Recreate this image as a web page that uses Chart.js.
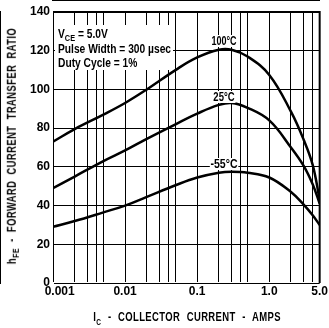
<!DOCTYPE html>
<html>
<head>
<meta charset="utf-8">
<script src="https://cdn.jsdelivr.net/npm/chart.js@4/dist/chart.umd.min.js"></script>
<style>
  html, body { margin: 0; padding: 0; background: #fff; }
  #wrap { position: relative; width: 329px; height: 328px; overflow: hidden; background: #fff; }
  #wrap canvas { position: absolute; left: 0; top: 0; }
  .txt { position: absolute; color: #000; font-family: 'Liberation Sans', Arial, sans-serif; font-weight: bold; white-space: nowrap; }
  .title { left: 185px; top: -12px; font-size: 16px; line-height: 16px; letter-spacing: 1px; transform-origin: 0 0; }
  .notebox { position: absolute; left: 55px; top: 25px; width: 118px; height: 45px; background: #fff; }
  .note { left: 3px; top: 2px; font-size: 12.5px; line-height: 14.5px; transform-origin: 0 0; }
  .note sub { font-size: 9px; vertical-align: -3px; line-height: 0; }
  .curve { background: #fff; font-size: 12px; line-height: 12px; padding: 0 1px; }
  .ytitle { left: 13px; top: 146px; font-size: 12px; letter-spacing: 0.6px; word-spacing: 4px; }
  .xtitle { left: 187px; top: 318px; font-size: 13px; letter-spacing: 0.5px; word-spacing: 5px; }
  sub { font-size: 9px; }
</style>
</head>
<body>
<div id="wrap">
  <canvas id="hfeChart" width="329" height="328"></canvas>
  <div class="txt title" id="title" data-fit="235">VERSUS COLLECTOR CURRENT</div>
  <div class="notebox"><div class="txt note" data-fit="113">V<sub>CE</sub> = 5.0V<br>Pulse Width = 300 µsec<br>Duty Cycle = 1%</div></div>
  <div class="txt curve" id="lab100" data-fit="27">100°C</div>
  <div class="txt curve" id="lab25" data-fit="23">25°C</div>
  <div class="txt curve" id="labm55" data-fit="29">-55°C</div>
  <div class="txt ytitle" data-fit="236" data-rot="1">h<sub>FE</sub> - FORWARD CURRENT TRANSFER RATIO</div>
  <div class="txt xtitle" data-fit="188">I<sub>C</sub> - COLLECTOR CURRENT - AMPS</div>
</div>
<script>
// Collector current (amps) and DC current gain
const currents = [0.001, 0.002, 0.005, 0.01, 0.02, 0.05, 0.1, 0.2, 0.3, 0.5, 1, 2, 3, 4, 5];
const hfe100 = [73, 79.5, 87, 93, 100, 110, 116.5, 120.5, 120.5, 117, 107.5, 88.5, 74, 61, 43];
const hfe25 = [49, 55, 63, 68.5, 74.5, 82, 87.5, 92, 93, 90.5, 84, 70, 60.5, 51, 41];
const hfeMinus55 = [29, 32, 36.5, 40, 44.5, 50.5, 54.5, 57, 57.5, 57, 54.5, 47, 40.5, 35, 30];

// Grid lines on the log axis and the ones that carry a label
const xGridValues = [0.001, 0.002, 0.003, 0.004, 0.005, 0.01, 0.02, 0.03, 0.04, 0.05,
  0.1, 0.2, 0.3, 0.4, 0.5, 1, 2, 3, 4, 5];
const xLabelValues = [0.001, 0.01, 0.1, 1, 5];
const xLabelText = ['0.001', '0.01', '0.1', '1.0', '5.0'];
const yTickValues = [0, 20, 40, 60, 80, 100, 120, 140];

// Where the curve labels sit (data coordinates)
const curveLabels = [
  { id: 'lab100', x: 0.235, y: 125 },
  { id: 'lab25', x: 0.235, y: 96 },
  { id: 'labm55', x: 0.235, y: 61.5 }
];

const tickFont = { family: "'Liberation Sans', Arial, sans-serif", size: 12, weight: 'bold' };

function toPoints(values) {
  return currents.map((c, i) => ({ x: c, y: values[i] }));
}

function curve(values) {
  return {
    data: toPoints(values),
    borderColor: '#000',
    borderWidth: 2.5,
    pointRadius: 0,
    fill: false,
    tension: 0.4
  };
}

// right and top edge of the plot frame are a bit heavier than the grid
const plotFrame = {
  id: 'plotFrame',
  afterDatasetsDraw: function(chart) {
    const a = chart.chartArea;
    const c = chart.ctx;
    c.save();
    c.strokeStyle = '#000';
    c.lineWidth = 2;
    c.beginPath();
    c.moveTo(a.left, a.top);
    c.lineTo(a.right, a.top);
    c.lineTo(a.right, a.bottom);
    c.stroke();
    c.restore();
  }
};

const ctx = document.getElementById('hfeChart').getContext('2d');
const hfeChart = new Chart(ctx, {
  type: 'line',
  data: {
    datasets: [curve(hfe100), curve(hfe25), curve(hfeMinus55)]
  },
  plugins: [plotFrame],
  options: {
    responsive: false,
    animation: false,
    layout: { autoPadding: false, padding: { left: 0, right: 7, top: 12, bottom: 0 } },
    plugins: { legend: { display: false }, tooltip: { enabled: false } },
    scales: {
      x: {
        type: 'logarithmic',
        min: 0.001,
        max: 5,
        afterBuildTicks: function(scale) {
          scale.ticks = xGridValues.map(v => ({ value: v }));
        },
        afterFit: function(scale) { scale.height = 45; },
        ticks: {
          autoSkip: false,
          maxRotation: 0,
          padding: 1,
          color: '#000',
          font: tickFont,
          callback: function(value) {
            const i = xLabelValues.indexOf(value);
            if (i < 0) return '';
            // first label sits to the right of the axis corner
            return i === 0 ? '\u2007\u2007' + xLabelText[i] : xLabelText[i];
          }
        },
        grid: { display: true, drawOnChartArea: true, color: 'rgb(0,0,0)', lineWidth: 1, drawTicks: false, z: 1 },
        border: { color: '#000', width: 2 }
      },
      y: {
        min: 0,
        max: 140,
        afterBuildTicks: function(scale) {
          scale.ticks = yTickValues.map(v => ({ value: v }));
        },
        afterFit: function(scale) { scale.width = 53; },
        ticks: { padding: 3, color: '#000', font: tickFont },
        grid: { display: true, drawOnChartArea: true, color: 'rgb(0,0,0)', lineWidth: 1, drawTicks: false, z: 1 },
        border: { color: '#000', width: 2 }
      }
    }
  }
});

// Put the temperature labels onto their curves
curveLabels.forEach(function(l) {
  const el = document.getElementById(l.id);
  el.style.left = hfeChart.scales.x.getPixelForValue(l.x) + 'px';
  el.style.top = hfeChart.scales.y.getPixelForValue(l.y) + 'px';
});

// Narrow the lettering to the width it has in the original
document.querySelectorAll('[data-fit]').forEach(function(el) {
  const s = Number(el.dataset.fit) / el.offsetWidth;
  if (el.classList.contains('note')) {
    el.style.transform = 'scaleX(' + s + ')';
  } else if (el.classList.contains('title')) {
    el.style.transform = 'scaleX(' + s + ') translateX(-50%)';
  } else if (el.dataset.rot) {
    el.style.transform = 'translate(-50%, -50%) rotate(-90deg) scaleX(' + s + ')';
  } else {
    el.style.transform = 'translate(-50%, -50%) scaleX(' + s + ')';
  }
});
</script>
</body>
</html>
